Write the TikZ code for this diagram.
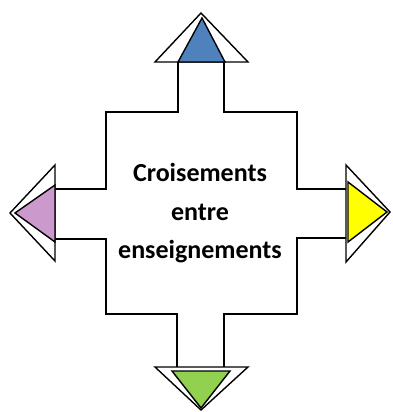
\documentclass[tikz,border=0pt]{standalone}
\usepackage{fontspec}
\setmainfont{Carlito}
\definecolor{cblue}{HTML}{4F81BD}
\definecolor{cpurple}{HTML}{CC99CC}
\definecolor{cyellow}{HTML}{FFFF00}
\definecolor{cgreen}{HTML}{92D050}
\begin{document}
\begin{tikzpicture}[x=1pt,y=-1pt,
  body/.style={draw=black,line width=1.6pt,line join=miter},
  outerhead/.style={draw=black,fill=white,line width=1.4pt,line join=miter},
  innerhead/.style={draw=black,line width=1.4pt,line join=miter},
  lbl/.style={anchor=base,inner sep=0pt,font=\fontsize{26}{26}\selectfont\bfseries}]
\useasboundingbox[fill=white] (0,0) rectangle (392,412);
% body
\draw[body] (178,62) -- (178,112) -- (106,112) -- (106,189) -- (55,189);
\draw[body] (55,239) -- (106,239) -- (106,314) -- (177,314) -- (177,367);
\draw[body] (224,367) -- (224,314) -- (297,314) -- (297,238) -- (346,238);
\draw[body] (346,189) -- (297,189) -- (297,112) -- (224,112) -- (224,62);
% outer heads
\draw[outerhead] (155,62) -- (201,13) -- (248,62) -- cycle;
\draw[outerhead] (55,165) -- (10,213) -- (55,261) -- cycle;
\draw[outerhead] (346,165) -- (390,212) -- (346,262) -- cycle;
\draw[outerhead] (155,367) -- (201,410) -- (248,367) -- cycle;
% inner heads
\draw[innerhead,fill=cblue] (178,62) -- (202,18) -- (225,62) -- cycle;
\draw[innerhead,fill=cpurple] (55,185) -- (15,213) -- (55,242) -- cycle;
\draw[innerhead,fill=cyellow] (348,182) -- (387,212) -- (348,242) -- cycle;
\draw[innerhead,fill=cgreen] (172,371) -- (201,408) -- (230,371) -- cycle;
% text
\node[lbl] (l1) at (200,181) {Croisements};
\node[lbl] (l2) at (200,220) {entre};
\node[lbl] (l3) at (200,258) {enseignements};
\end{tikzpicture}
\end{document}
